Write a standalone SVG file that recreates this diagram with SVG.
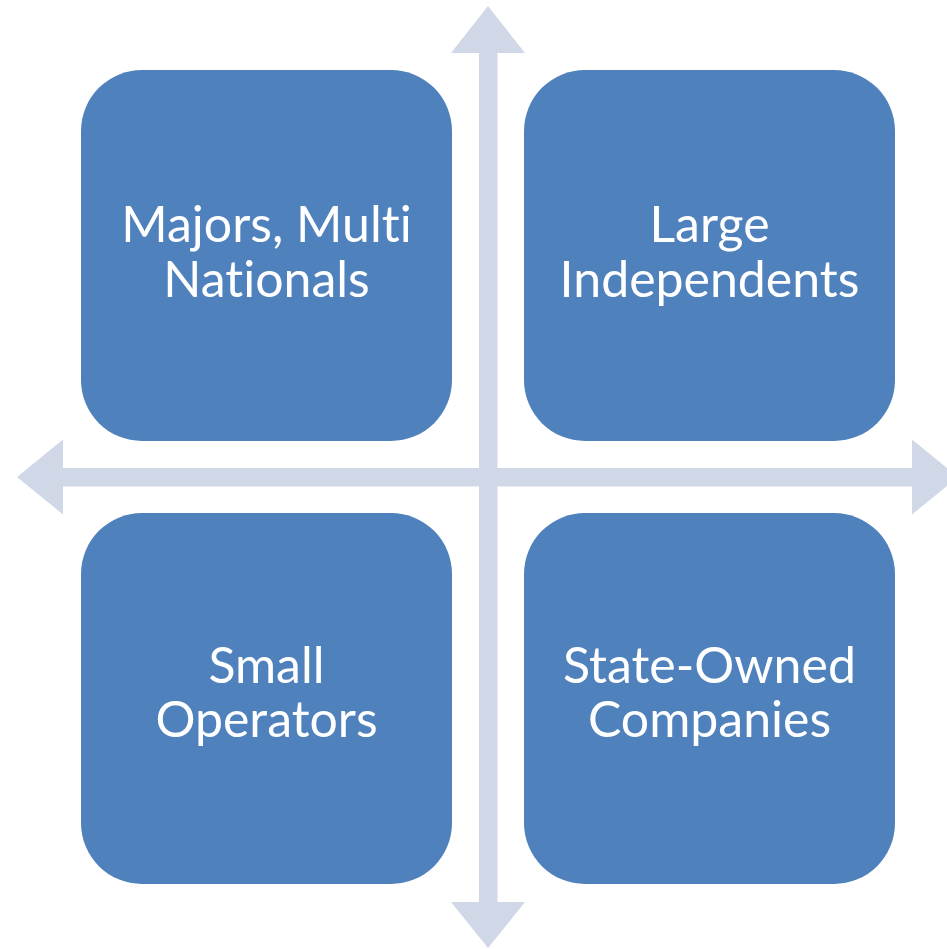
<svg xmlns="http://www.w3.org/2000/svg" width="947" height="949" viewBox="0 0 947 949">
<style>
.box{fill:#4F81BD;}
.arrow{fill:#D0D8E8;}
.lbl{font-family:Lato,"Open Sans","Liberation Sans",sans-serif;font-size:50px;fill:#FFFFFF;text-anchor:middle;font-variant-ligatures:none;font-feature-settings:"liga" 0,"clig" 0;}
</style>
<rect width="947" height="949" fill="#FFFFFF"/>
<g id="connectors">
<polygon class="arrow" points="488,6 525,53 497.5,53 497.5,902 525,902 488,948 451,902 479,902 479,53 451,53"/>
<polygon class="arrow" points="17,477 63,439.5 63,468 912,468 912,439.5 958,477 912,514.5 912,486.5 63,486.5 63,514.5"/>
</g>
<g id="node-majors">
<rect class="box" x="81" y="70" width="371" height="371" rx="61" ry="61"/>
<text class="lbl"><tspan x="266.5" y="242">Majors, Multi</tspan><tspan x="266.5" y="297">Nationals</tspan></text>
</g>
<g id="node-large">
<rect class="box" x="524" y="70" width="371" height="371" rx="61" ry="61"/>
<text class="lbl"><tspan x="709.5" y="242">Large</tspan><tspan x="709.5" y="297">Independents</tspan></text>
</g>
<g id="node-small">
<rect class="box" x="81" y="513" width="371" height="371" rx="61" ry="61"/>
<text class="lbl"><tspan x="266.5" y="683">Small</tspan><tspan x="266.5" y="737">Operators</tspan></text>
</g>
<g id="node-state">
<rect class="box" x="524" y="513" width="371" height="371" rx="61" ry="61"/>
<text class="lbl"><tspan x="709.5" y="683">State-Owned</tspan><tspan x="709.5" y="737">Companies</tspan></text>
</g>
</svg>
